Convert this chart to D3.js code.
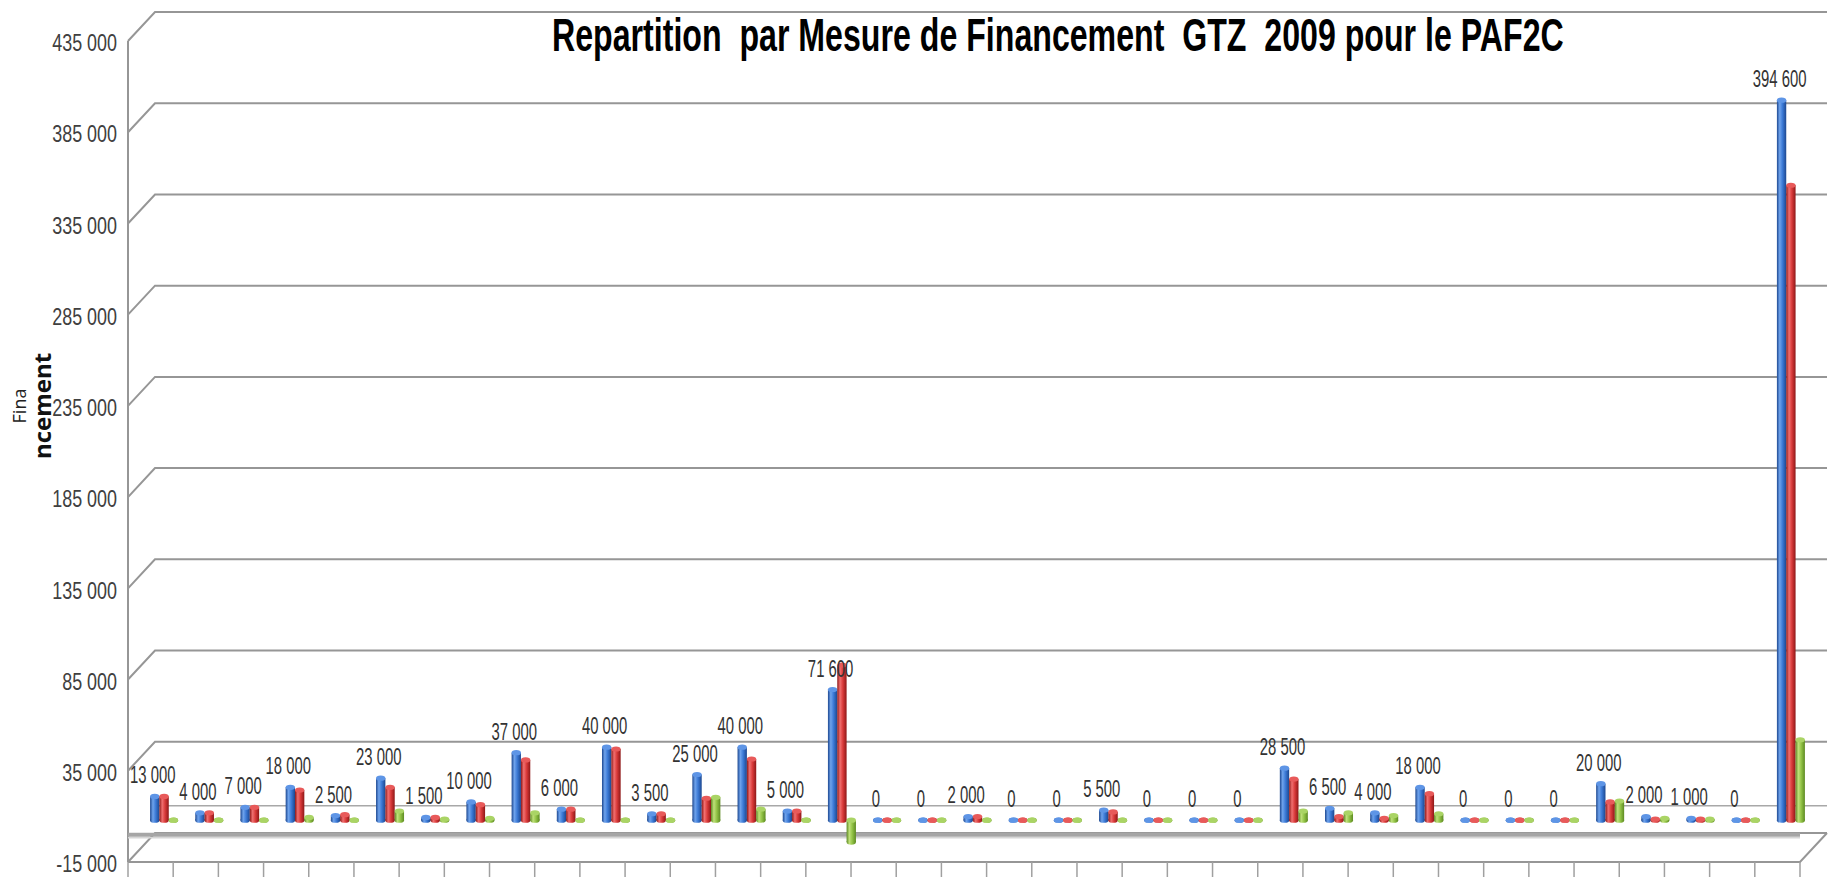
<!DOCTYPE html>
<html><head><meta charset="utf-8">
<script src="https://cdn.jsdelivr.net/npm/d3@7"></script>
<style>body{margin:0;background:#fff;} svg{display:block;}</style>
</head><body>
<svg id="chart" width="1834" height="877"></svg>
<script>
// ---------- data ----------
const categories = ["M1","M2","M3","M4","M5","M6","M7","M8","M9","M10","M11","M12","M13","M14","M15","M16","M17","M18","M19","M20","M21","M22","M23","M24","M25","M26","M27","M28","M29","M30","M31","M32","M33","M34","M35","M36","M37"];
const seriesNames = ["Série 1","Série 2","Série 3"];
const serie1 = [13000,4000,7000,18000,2500,23000,1500,10000,37000,6000,40000,3500,25000,40000,5000,71600,0,0,2000,0,0,5500,0,0,0,28500,6500,4000,18000,0,0,0,20000,2000,1000,0,394600];
const serie2 = [13000,4000,7000,16500,3000,18000,1500,8500,33000,6000,39000,3500,12000,33500,5000,85000,0,0,2000,0,0,4500,0,0,0,22500,2000,1000,14500,0,0,0,10000,500,500,0,348000];
const serie3 = [0,0,0,1500,0,5000,500,1000,4000,0,0,0,12500,6000,0,-12000,0,0,0,0,0,0,0,0,0,5000,4000,2500,3500,0,0,0,10500,1000,500,0,44000];
const yTicks = [-15000,35000,85000,135000,185000,235000,285000,335000,385000,435000];
const titleText = "Repartition  par Mesure de Financement  GTZ  2009 pour le PAF2C";
const yTitleSmall = "Fina";
const yTitleBig = "ncement";

// ---------- layout ----------
const W = 1834, H = 877;
const pLeft = 128, pRight = 1800, pTop = 41, pBottom = 862;
const DX = 27, DY = 29;
const groupW = 28;

const svg = d3.select("#chart");
const y = d3.scaleLinear().domain([-15000, 435000]).range([pBottom, pTop]);
const x0 = d3.scaleBand().domain(categories).range([pLeft, pRight]);
const x1 = d3.scaleBand().domain(seriesNames).range([0, groupW]);

const locale = d3.formatLocale({decimal: ",", thousands: " ", grouping: [3], currency: ["", ""], minus: "-"});
const fmt = locale.format(",");

const colors = [
  {dark: "#1c4790", mid: "#3c7ad6", light: "#6fa3ec", cap: "#5e95e6"},
  {dark: "#8e1717", mid: "#d93a3a", light: "#f07070", cap: "#e85a5a"},
  {dark: "#5d8a22", mid: "#93c447", light: "#bfe07a", cap: "#aad465"}
];

const defs = svg.append("defs");
colors.forEach((c, i) => {
  const g = defs.append("linearGradient").attr("id", "cyl" + i).attr("x1", "0").attr("x2", "1").attr("y1", "0").attr("y2", "0");
  g.append("stop").attr("offset", "0%").attr("stop-color", c.dark);
  g.append("stop").attr("offset", "30%").attr("stop-color", c.light);
  g.append("stop").attr("offset", "60%").attr("stop-color", c.mid);
  g.append("stop").attr("offset", "100%").attr("stop-color", c.dark);
});

// ---------- walls & gridlines ----------
const grid = svg.append("g").attr("fill", "none");
grid.selectAll("path.gl").data(yTicks).join("path")
  .attr("class", "gl")
  .attr("d", v => `M${pLeft},${y(v)}L${pLeft + DX},${y(v) - DY}L${pRight + DX},${y(v) - DY}`)
  .attr("stroke", "#969696").attr("stroke-width", 2);

// back-wall zero line
grid.append("path")
  .attr("d", `M${pLeft + DX},${y(0) - DY}L${pRight + DX},${y(0) - DY}`)
  .attr("stroke", "#a8a8a8").attr("stroke-width", 1.5);

// left wall edge
grid.append("path").attr("d", `M${pLeft},${y(435000)}L${pLeft},${y(-15000)}`)
  .attr("stroke", "#969696").attr("stroke-width", 2);

// floor front + right edge
grid.append("path")
  .attr("d", `M${pLeft},${y(-15000)}L${pRight},${y(-15000)}L${pRight + DX},${y(-15000) - DY}`)
  .attr("stroke", "#969696").attr("stroke-width", 2);

// front zero band
grid.append("path").attr("d", `M${pLeft},${y(0)}L${pRight},${y(0)}`)
  .attr("stroke", "#a6a6a6").attr("stroke-width", 4);
grid.append("path").attr("d", `M${pLeft},${y(0) + 3}L${pRight},${y(0) + 3}`)
  .attr("stroke", "#d6d6d6").attr("stroke-width", 1.5);

// category separators below floor
const bounds = categories.map(c => x0(c)).concat([pRight]);
grid.selectAll("path.ct").data(bounds).join("path")
  .attr("class", "ct")
  .attr("d", b => `M${b},${y(-15000)}L${b},${H}`)
  .attr("stroke", "#a0a0a0").attr("stroke-width", 1.5);

// ---------- y axis ----------
const sx = 0.78;
const yAxis = svg.append("g").attr("transform", `translate(${pLeft},0)`)
  .call(d3.axisLeft(y).tickValues(yTicks).tickSize(0).tickPadding(11).tickFormat(fmt));
yAxis.select(".domain").remove();
yAxis.selectAll("text")
  .attr("font-family", "'Liberation Sans', Arial, sans-serif")
  .attr("font-size", 23).attr("fill", "#404040")
  .attr("x", -11 / sx).attr("dy", "0.42em")
  .attr("transform", `scale(${sx},1)`);

// y title
svg.append("text")
  .attr("transform", "translate(26,406) rotate(-90)")
  .attr("text-anchor", "middle")
  .attr("font-family", "'Open Sans', sans-serif").attr("font-size", 18).attr("fill", "#222")
  .text(yTitleSmall);
svg.append("text")
  .attr("transform", "translate(51,406) rotate(-90)")
  .attr("text-anchor", "middle")
  .attr("font-family", "'Open Sans', sans-serif").attr("font-weight", "bold").attr("font-size", 24).attr("fill", "#111")
  .text(yTitleBig);

// ---------- bars ----------
const series = [serie1, serie2, serie3];
const rows = [];
categories.forEach((c, i) => {
  seriesNames.forEach((s, j) => rows.push({c, s, j, v: series[j][i]}));
});
const ry = 2.6;
const bars = svg.append("g");
const bar = bars.selectAll("g.bar").data(rows).join("g").attr("class", "bar");
bar.each(function(d) {
  const g = d3.select(this);
  const bx = x0(d.c) + (x0.bandwidth() - groupW) / 2 + DX / 2 + x1(d.s);
  const w = x1.bandwidth();
  const cx = bx + w / 2;
  const yb = y(0) - DY / 2;
  const yt = y(d.v) - DY / 2;
  const y1 = Math.min(yb, yt), y2 = Math.max(yb, yt);
  const col = colors[d.j];
  g.append("ellipse").attr("cx", cx).attr("cy", y2).attr("rx", w / 2).attr("ry", ry)
    .attr("fill", `url(#cyl${d.j})`);
  if (y2 - y1 > 0.5) {
    g.append("rect").attr("x", bx).attr("y", y1).attr("width", w).attr("height", y2 - y1)
      .attr("fill", `url(#cyl${d.j})`);
  }
  g.append("ellipse").attr("cx", cx).attr("cy", y1).attr("rx", w / 2).attr("ry", ry)
    .attr("fill", col.cap);
});

// ---------- data labels (series 1) ----------
const lsx = 0.62;
const labels = svg.append("g")
  .attr("font-family", "'Liberation Sans', Arial, sans-serif")
  .attr("font-size", 24).attr("fill", "#333");
labels.selectAll("g").data(categories).join("g")
  .attr("transform", (c, i) => {
    const bx = x0(c) + (x0.bandwidth() - groupW) / 2 + DX / 2 + x1(seriesNames[0]);
    const cx = bx + x1.bandwidth() / 2 - 2;
    const yt = y(serie1[i]) - DY / 2 - 13;
    return `translate(${cx},${yt}) scale(${lsx},1)`;
  })
  .append("text").attr("text-anchor", "middle")
  .text((c, i) => fmt(serie1[i]));

// ---------- title (horizontally condensed to the reference width) ----------
const titleG = svg.append("g");
const titleT = titleG.append("text")
  .attr("x", 0).attr("y", 0)
  .attr("font-family", "'Liberation Sans', Arial, sans-serif")
  .attr("font-weight", "bold").attr("font-size", 47).attr("fill", "#000")
  .style("white-space", "pre")
  .text(titleText);
const natural = titleT.node().getComputedTextLength();
const tsx = 1012 / natural;
titleG.attr("transform", `translate(552,51) scale(${tsx},1)`);
</script>
</body></html>
